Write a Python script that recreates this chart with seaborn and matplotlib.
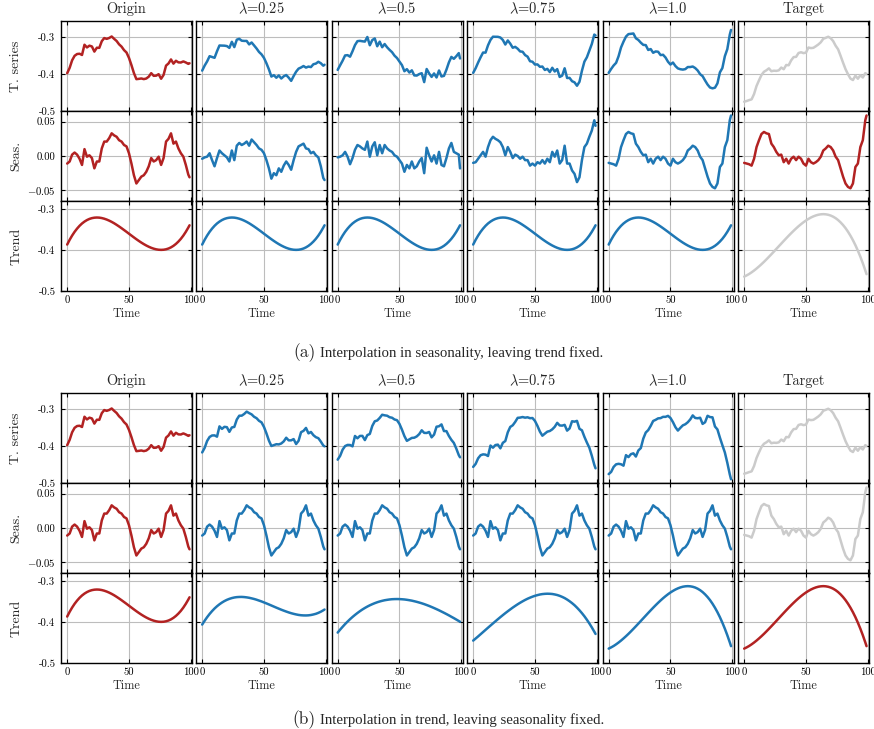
import numpy as np
import matplotlib
matplotlib.use('Agg')
import matplotlib.pyplot as plt
import seaborn as sns

# time steps (every 2nd step, plus the last one)
time = list(range(0, 100, 2)) + [99]

# seasonal components
seas_origin = [-0.011, -0.008, 0.002, 0.005, 0.002, -0.004, -0.013, 0.010, -0.001, 0.001,
               -0.003, -0.018, -0.008, -0.008, 0.011, 0.021, 0.021, 0.026, 0.033, 0.030,
               0.028, 0.023, 0.021, 0.016, 0.014, 0.004, -0.011, -0.028, -0.040, -0.035,
               -0.030, -0.028, -0.023, -0.015, -0.003, -0.008, -0.006, -0.001, -0.013, -0.003,
               0.021, 0.025, 0.033, 0.018, 0.021, 0.011, 0.004, -0.001, -0.013, -0.027, -0.031]
seas_l025 = [-0.004, -0.002, -0.001, 0.004, -0.006, -0.015, -0.003, 0.008, 0.004, 0.001,
             -0.002, -0.008, 0.008, -0.006, 0.015, 0.019, 0.016, 0.018, 0.021, 0.015,
             0.024, 0.020, 0.016, 0.011, 0.009, 0.004, -0.006, -0.018, -0.033, -0.025,
             -0.028, -0.018, -0.023, -0.014, -0.008, -0.013, -0.020, -0.006, 0.006, 0.014,
             0.016, 0.018, 0.011, 0.010, 0.004, 0.006, 0.001, -0.002, -0.015, -0.032, -0.035]
seas_l050 = [-0.002, -0.001, 0.001, 0.006, -0.001, -0.012, -0.003, 0.009, 0.016, 0.014,
             0.011, 0.009, 0.021, -0.001, 0.014, 0.020, 0.001, 0.016, 0.004, 0.016,
             0.011, 0.008, 0.006, 0.001, -0.001, -0.006, -0.011, -0.023, -0.013, -0.018,
             -0.008, -0.018, -0.015, -0.008, -0.003, -0.025, 0.012, 0.001, -0.008, 0.001,
             -0.011, 0.006, -0.013, -0.015, -0.003, 0.011, 0.019, 0.006, 0.004, 0.002, -0.018]
seas_l075 = [-0.010, -0.009, -0.004, 0.001, 0.006, -0.001, 0.013, 0.023, 0.028, 0.025,
             0.023, 0.020, 0.013, 0.001, 0.013, 0.006, -0.003, 0.002, 0.000, -0.004,
             -0.001, -0.006, -0.006, -0.014, -0.011, -0.014, -0.009, -0.011, -0.006, -0.011,
             -0.004, -0.009, 0.006, -0.001, 0.008, -0.011, -0.006, 0.015, -0.011, -0.011,
             -0.021, -0.026, -0.038, -0.031, -0.006, 0.013, 0.018, 0.028, 0.037, 0.052, 0.044]
seas_target = [-0.010, -0.011, -0.012, -0.014, -0.004, 0.013, 0.023, 0.032, 0.035, 0.033,
               0.032, 0.018, 0.013, 0.006, 0.001, 0.002, -0.009, -0.004, -0.011, -0.004,
               -0.001, -0.006, -0.001, -0.004, -0.011, -0.014, -0.004, -0.009, -0.011, -0.009,
               -0.006, -0.001, 0.008, 0.011, 0.015, 0.013, 0.008, -0.001, -0.006, -0.018,
               -0.030, -0.040, -0.045, -0.047, -0.040, -0.016, -0.011, 0.013, 0.023, 0.052, 0.059]

# trend components
trend_origin = [-0.3870, -0.3754, -0.3651, -0.3560, -0.3482, -0.3414, -0.3357, -0.3311, -0.3274, -0.3246,
                -0.3227, -0.3216, -0.3212, -0.3215, -0.3225, -0.3241, -0.3262, -0.3288, -0.3318, -0.3352,
                -0.3390, -0.3430, -0.3472, -0.3516, -0.3560, -0.3606, -0.3651, -0.3696, -0.3740, -0.3782,
                -0.3822, -0.3859, -0.3893, -0.3923, -0.3949, -0.3970, -0.3986, -0.3996, -0.3999, -0.3996,
                -0.3985, -0.3966, -0.3938, -0.3901, -0.3854, -0.3797, -0.3730, -0.3651, -0.3560, -0.3457, -0.3401]
trend_l025 = [-0.4065, -0.3971, -0.3885, -0.3807, -0.3737, -0.3674, -0.3619, -0.3571, -0.3529, -0.3493,
              -0.3463, -0.3439, -0.3420, -0.3406, -0.3397, -0.3393, -0.3392, -0.3396, -0.3403, -0.3413,
              -0.3427, -0.3442, -0.3460, -0.3481, -0.3502, -0.3526, -0.3550, -0.3575, -0.3601, -0.3627,
              -0.3653, -0.3678, -0.3703, -0.3726, -0.3748, -0.3769, -0.3788, -0.3804, -0.3818, -0.3830,
              -0.3838, -0.3842, -0.3843, -0.3840, -0.3832, -0.3819, -0.3803, -0.3780, -0.3752, -0.3718, -0.3699]
trend_l050 = [-0.4260, -0.4187, -0.4119, -0.4053, -0.3992, -0.3934, -0.3880, -0.3830, -0.3783, -0.3739,
              -0.3698, -0.3661, -0.3627, -0.3596, -0.3569, -0.3544, -0.3522, -0.3503, -0.3487, -0.3473,
              -0.3463, -0.3454, -0.3448, -0.3445, -0.3444, -0.3445, -0.3449, -0.3454, -0.3462, -0.3472,
              -0.3483, -0.3497, -0.3512, -0.3529, -0.3547, -0.3567, -0.3589, -0.3612, -0.3637, -0.3663,
              -0.3690, -0.3718, -0.3748, -0.3778, -0.3809, -0.3841, -0.3875, -0.3908, -0.3943, -0.3978, -0.3996]
trend_l075 = [-0.4455, -0.4404, -0.4353, -0.4300, -0.4247, -0.4194, -0.4141, -0.4089, -0.4037, -0.3985,
              -0.3934, -0.3884, -0.3835, -0.3787, -0.3741, -0.3696, -0.3652, -0.3611, -0.3571, -0.3534,
              -0.3499, -0.3466, -0.3436, -0.3410, -0.3386, -0.3365, -0.3348, -0.3333, -0.3323, -0.3317,
              -0.3314, -0.3316, -0.3321, -0.3332, -0.3346, -0.3366, -0.3391, -0.3420, -0.3456, -0.3497,
              -0.3543, -0.3594, -0.3653, -0.3717, -0.3787, -0.3863, -0.3947, -0.4037, -0.4134, -0.4238, -0.4293]
trend_target = [-0.4650, -0.4620, -0.4586, -0.4546, -0.4502, -0.4454, -0.4402, -0.4348, -0.4291, -0.4231,
                -0.4169, -0.4106, -0.4042, -0.3977, -0.3912, -0.3847, -0.3782, -0.3718, -0.3655, -0.3594,
                -0.3535, -0.3478, -0.3424, -0.3374, -0.3327, -0.3284, -0.3246, -0.3212, -0.3184, -0.3161,
                -0.3144, -0.3134, -0.3130, -0.3134, -0.3145, -0.3164, -0.3192, -0.3228, -0.3274, -0.3330,
                -0.3395, -0.3470, -0.3557, -0.3655, -0.3764, -0.3885, -0.4019, -0.4165, -0.4325, -0.4498, -0.4590]

col_titles = ['Origin', r'$\lambda$=0.25', r'$\lambda$=0.5', r'$\lambda$=0.75', r'$\lambda$=1.0', 'Target']
row_names = ['T. series', 'Seas.', 'Trend']
captions = ['Interpolation in seasonality, leaving trend fixed.',
            'Interpolation in trend, leaving seasonality fixed.']

RED = '#b22222'
BLUE = '#1f77b4'
GRAY = '#cbcbcb'

sns.set_style('ticks')
plt.rcParams['font.family'] = ['cmr10', 'DejaVu Serif']
plt.rcParams['mathtext.fontset'] = 'cm'
plt.rcParams['axes.formatter.use_mathtext'] = True


def col(seas, trend, c_ts, c_s, c_t):
    s = np.array(seas)
    t = np.array(trend)
    return [(s + t, c_ts), (s, c_s), (t, c_t)]


panel_a = [col(seas_origin, trend_origin, RED, RED, RED),
           col(seas_l025, trend_origin, BLUE, BLUE, BLUE),
           col(seas_l050, trend_origin, BLUE, BLUE, BLUE),
           col(seas_l075, trend_origin, BLUE, BLUE, BLUE),
           col(seas_target, trend_origin, BLUE, BLUE, BLUE),
           col(seas_target, trend_target, GRAY, RED, GRAY)]
panel_b = [col(seas_origin, trend_origin, RED, RED, RED),
           col(seas_origin, trend_l025, BLUE, BLUE, BLUE),
           col(seas_origin, trend_l050, BLUE, BLUE, BLUE),
           col(seas_origin, trend_l075, BLUE, BLUE, BLUE),
           col(seas_origin, trend_target, BLUE, BLUE, BLUE),
           col(seas_target, trend_target, GRAY, GRAY, RED)]

ylims = [(-0.5, -0.257), (-0.0655, 0.0655), (-0.5, -0.281)]
yticks = [[-0.5, -0.4, -0.3], [-0.05, 0.0, 0.05], [-0.5, -0.4, -0.3]]
yticklabels = [['-0.5', '-0.4', '-0.3'], [r'$-0.05$', '0.00', '0.05'], ['-0.5', '-0.4', '-0.3']]

W, H = 874, 729
fig = plt.figure(figsize=(W / 100, H / 100), dpi=100)
col_left = [61, 196, 331.5, 467, 602.5, 738]
ax_w, row_h = 131, 90


def draw_panel(panel, top):
    for c in range(6):
        for r in range(3):
            y0 = top + r * row_h
            ax = fig.add_axes([col_left[c] / W, 1 - (y0 + row_h) / H, ax_w / W, row_h / H])
            vals, color = panel[c][r]
            sns.lineplot(x=time, y=vals, ax=ax, color=color, linewidth=1.8)
            ax.set_xlim(-5, 101)
            ax.set_ylim(ylims[r])
            ax.set_xticks([0, 50, 100])
            ax.set_yticks(yticks[r])
            ax.grid(True, color='#bdbdbd', linewidth=0.8)
            ax.tick_params(direction='in', top=True, right=True, length=3, width=0.8,
                           labelsize=7.7, colors='black')
            ax.tick_params(axis='x', pad=3)
            ax.tick_params(axis='y', pad=4)
            if c == 0:
                ax.set_yticklabels(yticklabels[r])
            else:
                ax.set_yticklabels([])
            if r == 2:
                ax.set_xticklabels(['0', '50', '100'])
                ax.set_xlabel('Time', fontsize=8.8, labelpad=2.5)
            else:
                ax.set_xticklabels([])
                ax.set_xlabel('')
            ax.set_ylabel('')
            if r == 0:
                ax.set_title(col_titles[c], fontsize=10.4, pad=5.5)
            for s in ax.spines.values():
                s.set_color('black')
                s.set_linewidth(1.0)
    for r in range(3):
        fig.text(16 / W, 1 - (top + r * row_h + row_h / 2) / H, row_names[r],
                 rotation=90, ha='center', va='center', fontsize=10)


draw_panel(panel_a, 21)
draw_panel(panel_b, 393)

for tag, cap, base in zip(['(a)', '(b)'], captions, [357, 724]):
    fig.text(316 / W, 1 - base / H, tag, fontsize=12.5, va='baseline', ha='right')
    fig.text(320 / W, 1 - base / H, cap, fontsize=10.6, va='baseline', ha='left',
             family='Liberation Serif')

fig.savefig('out.png', dpi=100)
